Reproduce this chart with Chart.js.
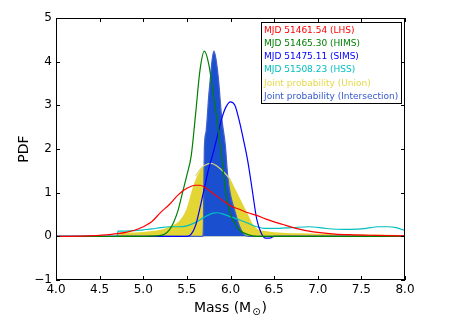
<!DOCTYPE html>
<html>
<head>
<meta charset="utf-8">
<script src="https://cdn.jsdelivr.net/npm/chart.js@4/dist/chart.umd.min.js"></script>
<style>
  html, body { margin: 0; padding: 0; background: #fff; }
  #wrap { width: 450px; height: 322px; }
</style>
</head>
<body>
<div id="wrap"><canvas id="pdfChart" width="450" height="322"></canvas></div>
<script>
    // Axis ticks
    const xTicks = [4.0, 4.5, 5.0, 5.5, 6.0, 6.5, 7.0, 7.5, 8.0];
    const yTicks = [-1, 0, 1, 2, 3, 4, 5];

    // MJD 51461.54 (LHS)
    const lhsMass = [4.0, 4.3, 4.5, 4.6, 4.7, 4.8, 4.9, 5.0, 5.1, 5.2, 5.3, 5.4, 5.5, 5.6, 5.65, 5.7, 5.8, 5.9, 6.0, 6.1, 6.2, 6.3, 6.4, 6.5, 6.6, 6.7, 6.8, 6.9, 7.0, 7.2, 7.4, 7.6, 7.8, 8.0];
    const lhsPdf  = [0, 0.005, 0.02, 0.04, 0.06, 0.09, 0.14, 0.22, 0.34, 0.55, 0.73, 0.95, 1.1, 1.17, 1.17, 1.13, 0.98, 0.84, 0.7, 0.62, 0.54, 0.48, 0.4, 0.33, 0.27, 0.21, 0.16, 0.12, 0.09, 0.05, 0.035, 0.025, 0.015, 0.01];

    // MJD 51465.30 (HIMS)
    const himsMass = [4.0, 5.0, 5.2, 5.3, 5.35, 5.4, 5.45, 5.5, 5.55, 5.6, 5.65, 5.7, 5.75, 5.8, 5.85, 5.9, 5.95, 6.0, 6.05, 6.1, 6.2, 6.3, 8.0];
    const himsPdf  = [0, 0, 0.02, 0.15, 0.33, 0.6, 1.0, 1.4, 1.85, 2.8, 3.8, 4.24, 3.95, 3.3, 2.6, 1.8, 0.95, 0.5, 0.3, 0.15, 0.04, 0, 0];

    // MJD 51475.11 (SIMS)
    const simsMass = [4.0, 5.5, 5.55, 5.6, 5.65, 5.7, 5.75, 5.8, 5.85, 5.9, 5.95, 6.0, 6.05, 6.1, 6.15, 6.2, 6.25, 6.3, 6.35, 6.4, 6.45, 6.5, 8.0];
    const simsPdf  = [0, 0, 0.05, 0.25, 0.65, 1.1, 1.55, 1.9, 2.3, 2.7, 2.97, 3.08, 3.0, 2.65, 2.2, 1.7, 1.05, 0.4, 0.08, -0.04, -0.04, 0, 0];

    // MJD 51508.23 (HSS)
    const hssMass = [4.7, 4.71, 4.8, 4.9, 5.0, 5.1, 5.2, 5.3, 5.4, 5.5, 5.6, 5.7, 5.8, 5.85, 5.9, 6.0, 6.1, 6.2, 6.3, 6.4, 6.5, 6.7, 6.9, 7.1, 7.3, 7.5, 7.7, 7.8, 7.9, 8.0];
    const hssPdf  = [0, 0.12, 0.12, 0.13, 0.15, 0.17, 0.2, 0.22, 0.22, 0.24, 0.32, 0.44, 0.53, 0.54, 0.52, 0.45, 0.38, 0.3, 0.22, 0.18, 0.18, 0.2, 0.22, 0.18, 0.16, 0.17, 0.22, 0.22, 0.2, 0.13];

    // Joint probability (Union)
    const unionMass = [4.0, 4.7, 4.72, 4.9, 5.0, 5.1, 5.2, 5.3, 5.4, 5.45, 5.5, 5.55, 5.6, 5.65, 5.7, 5.75, 5.8, 5.85, 5.9, 5.95, 6.0, 6.05, 6.1, 6.15, 6.2, 6.25, 6.3, 6.4, 6.6, 7.0, 7.5, 8.0];
    const unionPdf  = [0, 0, 0.08, 0.09, 0.1, 0.12, 0.15, 0.22, 0.33, 0.45, 0.65, 1.0, 1.3, 1.5, 1.62, 1.66, 1.66, 1.6, 1.5, 1.4, 1.3, 1.1, 0.9, 0.7, 0.5, 0.3, 0.18, 0.12, 0.08, 0.06, 0.04, 0.03];
    const unionLineMass = [5.6, 5.65, 5.7, 5.78, 5.85, 5.92, 6.0];
    const unionLinePdf  = [1.38, 1.53, 1.62, 1.67, 1.6, 1.48, 1.3];

    // Joint probability (Intersection)
    const interMass = [4.0, 5.68, 5.69, 5.695, 5.7, 5.72, 5.75, 5.77, 5.79, 5.81, 5.83, 5.86, 5.9, 5.94, 5.97, 6.0, 6.05, 6.1, 6.15, 6.2, 8.0];
    const interPdf  = [0, 0, 0.3, 1.2, 2.0, 2.4, 3.2, 3.64, 4.05, 4.24, 4.1, 3.64, 2.7, 2.1, 1.35, 0.95, 0.58, 0.25, 0.05, 0, 0];

    const legendItems = [
        ['MJD 51461.54 (LHS)', '#ff0000'],
        ['MJD 51465.30 (HIMS)', '#008000'],
        ['MJD 51475.11 (SIMS)', '#0000ff'],
        ['MJD 51508.23 (HSS)', '#00bfbf'],
        ['Joint probability (Union)', '#e6d84a'],
        ['Joint probability (Intersection)', '#3558d0']
    ];

    const FONT = "'DejaVu Sans', sans-serif";

    function pts(xs, ys) {
        return xs.map(function (m, i) { return {x: m, y: ys[i]}; });
    }

    function line(label, xs, ys, color, order) {
        return {
            label: label,
            data: pts(xs, ys),
            borderColor: color,
            borderWidth: 1.2,
            pointRadius: 0,
            fill: false,
            cubicInterpolationMode: 'monotone',
            order: order
        };
    }

    // inward ticks, frame, axis titles, legend box
    const decorations = {
        id: 'decorations',
        afterDraw(chart) {
            const ctx = chart.ctx;
            const a = chart.chartArea;
            const x = chart.scales.x, y = chart.scales.y;
            ctx.save();
            ctx.strokeStyle = '#000';
            ctx.lineWidth = 1;
            ctx.beginPath();
            xTicks.forEach(function (v) {
                const px = Math.round(x.getPixelForValue(v)) + 0.5;
                ctx.moveTo(px, a.bottom); ctx.lineTo(px, a.bottom - 4);
                ctx.moveTo(px, a.top); ctx.lineTo(px, a.top + 4);
            });
            yTicks.forEach(function (v) {
                const py = Math.round(y.getPixelForValue(v)) + 0.5;
                ctx.moveTo(a.left, py); ctx.lineTo(a.left + 4, py);
                ctx.moveTo(a.right, py); ctx.lineTo(a.right - 4, py);
            });
            ctx.stroke();
            ctx.strokeRect(Math.round(a.left) + 0.5, Math.round(a.top) + 0.5, Math.round(a.width) - 1, Math.round(a.height) - 1);

            // x title with subscript sun symbol
            ctx.fillStyle = '#000';
            ctx.textBaseline = 'alphabetic';
            ctx.font = '14px ' + FONT;
            const t1 = 'Mass (M', t2 = '\u2299', t3 = ')';
            const w1 = ctx.measureText(t1).width;
            ctx.font = '10px ' + FONT;
            const w2 = ctx.measureText(t2).width;
            ctx.font = '14px ' + FONT;
            const w3 = ctx.measureText(t3).width;
            let sx = (a.left + a.right) / 2 - (w1 + w2 + w3 + 2) / 2;
            const base = 312;
            ctx.fillText(t1, sx, base);
            ctx.font = '10px ' + FONT;
            ctx.fillText(t2, sx + w1 + 1, base + 3);
            ctx.font = '14px ' + FONT;
            ctx.fillText(t3, sx + w1 + w2 + 2, base);

            // y title
            ctx.save();
            ctx.translate(24, (a.top + a.bottom) / 2);
            ctx.rotate(-Math.PI / 2);
            ctx.textAlign = 'center';
            ctx.textBaseline = 'middle';
            ctx.fillText('PDF', 0, 0);
            ctx.restore();

            // legend
            ctx.fillStyle = '#fff';
            ctx.fillRect(261, 22, 141, 82);
            ctx.strokeStyle = '#000';
            ctx.strokeRect(261.5, 22.5, 140, 81);
            ctx.font = '9px ' + FONT;
            ctx.textAlign = 'left';
            ctx.textBaseline = 'middle';
            legendItems.forEach(function (it, i) {
                ctx.fillStyle = it[1];
                ctx.fillText(it[0], 264, 30.5 + i * 13.2);
            });
            ctx.restore();
        }
    };

    const data = {
        datasets: [
            line('MJD 51461.54 (LHS)', lhsMass, lhsPdf, '#ff0000', 1),
            line('MJD 51465.30 (HIMS)', himsMass, himsPdf, '#008000', 1),
            line('MJD 51475.11 (SIMS)', simsMass, simsPdf, '#0000ff', 1),
            line('MJD 51508.23 (HSS)', hssMass, hssPdf, '#00bfbf', 1),
            line('Union line', unionLineMass, unionLinePdf, '#ddd37a', 2),
            {
                label: 'Joint probability (Intersection)',
                data: pts(interMass, interPdf),
                borderColor: '#4060c8',
                borderWidth: 1.2,
                backgroundColor: '#1a50d0',
                pointRadius: 0,
                fill: 'origin',
                cubicInterpolationMode: 'monotone',
                order: 3
            },
            {
                label: 'Joint probability (Union)',
                data: pts(unionMass, unionPdf),
                borderWidth: 0,
                borderColor: 'rgba(0,0,0,0)',
                backgroundColor: '#e2d534',
                pointRadius: 0,
                fill: 'origin',
                cubicInterpolationMode: 'monotone',
                order: 4
            }
        ]
    };

    const options = {
        responsive: false,
        animation: false,
        layout: { padding: { left: 0, right: 45, top: 18, bottom: 0 } },
        plugins: {
            legend: { display: false },
            tooltip: { enabled: false }
        },
        scales: {
            x: {
                type: 'linear',
                min: 4, max: 8,
                afterFit: function (s) { s.height = 42; },
                afterBuildTicks: function (s) { s.ticks = xTicks.map(function (v) { return {value: v}; }); },
                ticks: {
                    color: '#000',
                    font: { family: FONT, size: 12 },
                    padding: 3,
                    maxRotation: 0,
                    callback: function (v) { return v.toFixed(1); }
                },
                grid: { display: false, drawTicks: false },
                border: { display: false }
            },
            y: {
                min: -1, max: 5,
                afterFit: function (s) { s.width = 56; },
                afterBuildTicks: function (s) { s.ticks = yTicks.map(function (v) { return {value: v}; }); },
                ticks: {
                    color: '#000',
                    font: { family: FONT, size: 12 },
                    padding: 4,
                    callback: function (v) { return v < 0 ? '\u2212' + Math.abs(v) : String(v); }
                },
                grid: { display: false, drawTicks: false },
                border: { display: false }
            }
        }
    };

    new Chart(document.getElementById('pdfChart'), {
        type: 'line',
        data: data,
        options: options,
        plugins: [decorations]
    });
</script>
</body>
</html>
